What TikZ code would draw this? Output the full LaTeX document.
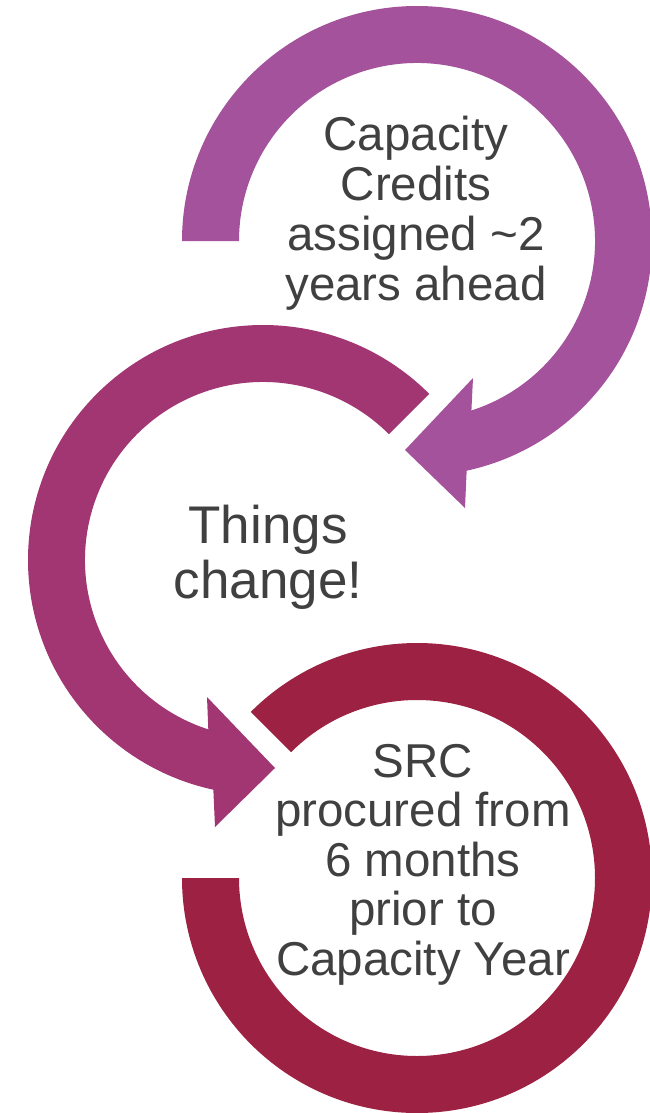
\documentclass[tikz,border=0pt]{standalone}
\usepackage{fontspec}
\setmainfont{Liberation Sans}
\definecolor{ringA}{RGB}{163,82,155}
\definecolor{ringB}{RGB}{161,54,114}
\definecolor{ringC}{RGB}{157,33,66}
\definecolor{txt}{RGB}{64,64,64}
\begin{document}
\begin{tikzpicture}[x=1pt,y=1pt,
  lbl/.style={align=center,text=txt,inner sep=0pt,anchor=base},
  bigtxt/.style={font=\fontsize{47.5}{50}\selectfont},
  hugetxt/.style={font=\fontsize{53}{55}\selectfont}]
\useasboundingbox (0,0) rectangle (649,-1113);
% ring 1 (top)
\fill[ringA] (417,-241) ++(180:235) arc[start angle=180,end angle=-77.8,radius=235]
  -- (465,-508) -- (405,-450) -- (473,-378)
  -- ([shift={(-72.2:178)}]417,-241) arc[start angle=-72.2,end angle=180,radius=178] -- cycle;
% ring 2 (middle)
\fill[ringB] (263,-560) ++(45:235) arc[start angle=45,end angle=257.8,radius=235]
  -- (215,-827) -- (275,-768) -- (207,-697)
  -- ([shift={(252.1:178)}]263,-560) arc[start angle=252.1,end angle=45,radius=178] -- cycle;
% ring 3 (bottom)
\fill[ringC] (417,-878) ++(180:235) arc[start angle=180,end angle=495,radius=235]
  -- ([shift={(495:178)}]417,-878) arc[start angle=495,end angle=180,radius=178] -- cycle;
\node[lbl,bigtxt] (t1) at (416,-300) {Capacity\\Credits\\assigned \textasciitilde2\\years ahead};
\node[lbl,hugetxt] (t2) at (268,-598) {Things\\change!};
\node[lbl,font=\fontsize{47.5}{49.5}\selectfont] (t3) at (423,-975) {SRC\\procured from\\6 months\\prior to\\Capacity Year};
\end{tikzpicture}
\end{document}
